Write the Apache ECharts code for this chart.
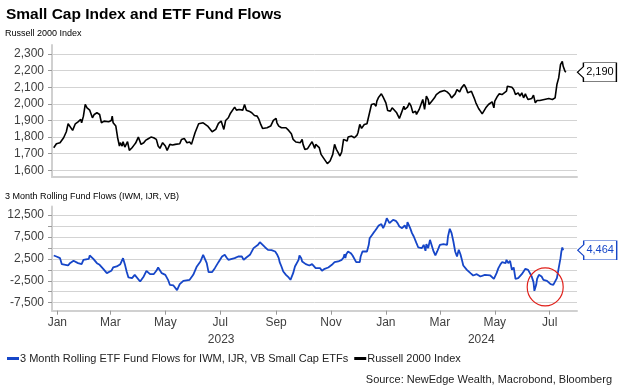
<!DOCTYPE html>
<html><head><meta charset="utf-8">
<script src="https://cdn.jsdelivr.net/npm/echarts@6/dist/echarts.min.js"></script>
<style>html,body{margin:0;padding:0;background:#fff}#c{width:624px;height:391px}</style>
</head><body><div id="c"></div>
<script>
// ---------------- DATA ----------------
const r2kName = 'Russell 2000 Index';
const flowName = '3 Month Rolling ETF Fund Flows for IWM, IJR, VB Small Cap ETFs';

const r2kDates = ['2022-12-28','2022-12-29','2022-12-31','2023-01-02','2023-01-04','2023-01-06','2023-01-08','2023-01-11','2023-01-13','2023-01-15','2023-01-18','2023-01-21','2023-01-24','2023-01-27','2023-01-28','2023-01-30','2023-02-01','2023-02-03','2023-02-06','2023-02-09','2023-02-11','2023-02-14','2023-02-16','2023-02-17','2023-02-19','2023-02-22','2023-02-24','2023-02-27','2023-03-02','2023-03-03','2023-03-04','2023-03-07','2023-03-09','2023-03-11','2023-03-12','2023-03-14','2023-03-15','2023-03-17','2023-03-20','2023-03-22','2023-03-25','2023-03-27','2023-03-29','2023-04-01','2023-04-04','2023-04-07','2023-04-09','2023-04-12','2023-04-15','2023-04-18','2023-04-21','2023-04-23','2023-04-25','2023-04-28','2023-05-01','2023-05-03','2023-05-06','2023-05-09','2023-05-12','2023-05-14','2023-05-17','2023-05-19','2023-05-22','2023-05-25','2023-05-28','2023-05-30','2023-06-01','2023-06-03','2023-06-05','2023-06-07','2023-06-09','2023-06-12','2023-06-14','2023-06-17','2023-06-19','2023-06-22','2023-06-23','2023-06-26','2023-06-29','2023-07-02','2023-07-05','2023-07-07','2023-07-10','2023-07-12','2023-07-14','2023-07-17','2023-07-19','2023-07-22','2023-07-24','2023-07-26','2023-07-28','2023-07-30','2023-08-02','2023-08-05','2023-08-08','2023-08-11','2023-08-13','2023-08-15','2023-08-17','2023-08-19','2023-08-22','2023-08-24','2023-08-26','2023-08-29','2023-09-01','2023-09-02','2023-09-04','2023-09-07','2023-09-09','2023-09-12','2023-09-14','2023-09-15','2023-09-18','2023-09-20','2023-09-23','2023-09-25','2023-09-28','2023-09-30','2023-10-01','2023-10-03','2023-10-06','2023-10-09','2023-10-11','2023-10-14','2023-10-15','2023-10-17','2023-10-19','2023-10-21','2023-10-24','2023-10-25','2023-10-28','2023-10-31','2023-11-03','2023-11-05','2023-11-07','2023-11-09','2023-11-11','2023-11-13','2023-11-15','2023-11-17','2023-11-19','2023-11-20','2023-11-22','2023-11-24','2023-11-27','2023-11-30','2023-12-01','2023-12-03','2023-12-05','2023-12-08','2023-12-11','2023-12-13','2023-12-16','2023-12-17','2023-12-19','2023-12-21','2023-12-22','2023-12-24','2023-12-27','2023-12-29','2024-01-01','2024-01-03','2024-01-06','2024-01-08','2024-01-10','2024-01-13','2024-01-16','2024-01-19','2024-01-21','2024-01-22','2024-01-25','2024-01-27','2024-01-29','2024-01-31','2024-02-03','2024-02-04','2024-02-07','2024-02-09','2024-02-11','2024-02-13','2024-02-15','2024-02-17','2024-02-18','2024-02-21','2024-02-24','2024-02-26','2024-02-28','2024-03-01','2024-03-03','2024-03-06','2024-03-09','2024-03-12','2024-03-14','2024-03-16','2024-03-18','2024-03-20','2024-03-23','2024-03-25','2024-03-28','2024-03-30','2024-04-01','2024-04-03','2024-04-05','2024-04-08','2024-04-10','2024-04-13','2024-04-15','2024-04-17','2024-04-19','2024-04-21','2024-04-24','2024-04-26','2024-04-28','2024-04-30','2024-05-01','2024-05-04','2024-05-06','2024-05-09','2024-05-11','2024-05-14','2024-05-15','2024-05-17','2024-05-20','2024-05-22','2024-05-24','2024-05-25','2024-05-27','2024-05-29','2024-05-31','2024-06-02','2024-06-04','2024-06-05','2024-06-07','2024-06-09','2024-06-11','2024-06-13','2024-06-15','2024-06-17','2024-06-20','2024-06-22','2024-06-25','2024-06-27','2024-06-30','2024-07-02','2024-07-04','2024-07-07','2024-07-09','2024-07-11','2024-07-12','2024-07-13','2024-07-15','2024-07-16','2024-07-18','2024-07-19'];
const r2kValues = [1736,1726,1760,1756,1766,1756,1796,1832,1880,1886,1840,1880,1892,1906,1886,1926,1996,1976,1962,1916,1936,1946,1956,1936,1886,1896,1886,1892,1900,1926,1886,1866,1796,1746,1766,1746,1772,1740,1772,1720,1736,1750,1764,1800,1756,1766,1780,1790,1800,1796,1786,1746,1732,1766,1746,1720,1756,1752,1756,1746,1760,1786,1792,1766,1770,1756,1766,1826,1820,1880,1872,1886,1876,1866,1856,1832,1820,1846,1882,1896,1846,1900,1916,1940,1932,1980,1962,1966,1976,1962,1996,1962,1956,1946,1930,1926,1906,1876,1852,1852,1856,1846,1866,1900,1912,1886,1866,1856,1852,1856,1866,1840,1820,1786,1770,1780,1766,1786,1756,1726,1730,1756,1772,1732,1756,1766,1736,1696,1672,1666,1640,1656,1696,1756,1726,1706,1686,1712,1786,1796,1776,1800,1792,1806,1796,1812,1826,1876,1852,1876,1880,1886,1996,1986,2000,1986,2016,2040,2060,2040,2006,1960,1956,1976,1966,1946,1912,1956,1986,1966,1980,2006,1986,1946,1956,1936,1966,1976,2026,1966,2046,2026,1996,2016,2036,2056,2046,2072,2066,2080,2072,2056,2036,2036,2060,2086,2072,2096,2116,2096,2066,2056,2076,2036,2006,1972,1956,1940,1946,1976,1996,1986,2012,1976,2016,2046,2060,2056,2066,2076,2106,2100,2100,2086,2056,2046,2066,2046,2066,2036,2060,2046,2026,2036,2032,2052,2006,2020,2020,2016,2026,2036,2032,2032,2026,2036,2116,2156,2196,2236,2256,2226,2196,2190];

const flowDates = ['2022-12-28','2022-12-29','2022-12-31','2023-01-04','2023-01-06','2023-01-10','2023-01-13','2023-01-15','2023-01-19','2023-01-21','2023-01-24','2023-01-26','2023-01-28','2023-01-30','2023-02-01','2023-02-05','2023-02-06','2023-02-10','2023-02-14','2023-02-17','2023-02-21','2023-02-25','2023-02-27','2023-03-02','2023-03-04','2023-03-08','2023-03-10','2023-03-12','2023-03-15','2023-03-17','2023-03-19','2023-03-21','2023-03-25','2023-03-28','2023-03-30','2023-04-03','2023-04-07','2023-04-10','2023-04-14','2023-04-18','2023-04-21','2023-04-23','2023-04-27','2023-05-01','2023-05-04','2023-05-06','2023-05-10','2023-05-14','2023-05-17','2023-05-21','2023-05-28','2023-06-01','2023-06-05','2023-06-09','2023-06-12','2023-06-14','2023-06-16','2023-06-18','2023-06-22','2023-06-25','2023-06-29','2023-07-03','2023-07-05','2023-07-06','2023-07-08','2023-07-10','2023-07-14','2023-07-17','2023-07-21','2023-07-25','2023-07-27','2023-07-30','2023-08-03','2023-08-07','2023-08-09','2023-08-12','2023-08-14','2023-08-16','2023-08-20','2023-08-23','2023-08-27','2023-08-31','2023-09-02','2023-09-04','2023-09-05','2023-09-07','2023-09-09','2023-09-11','2023-09-12','2023-09-14','2023-09-15','2023-09-17','2023-09-18','2023-09-20','2023-09-22','2023-09-24','2023-09-26','2023-09-27','2023-09-29','2023-09-30','2023-10-02','2023-10-04','2023-10-06','2023-10-08','2023-10-10','2023-10-11','2023-10-15','2023-10-17','2023-10-20','2023-10-22','2023-10-25','2023-10-29','2023-11-02','2023-11-05','2023-11-09','2023-11-13','2023-11-15','2023-11-16','2023-11-17','2023-11-18','2023-11-20','2023-11-22','2023-11-23','2023-11-25','2023-11-27','2023-11-29','2023-12-01','2023-12-03','2023-12-04','2023-12-06','2023-12-08','2023-12-11','2023-12-13','2023-12-14','2023-12-16','2023-12-18','2023-12-20','2023-12-22','2023-12-24','2023-12-26','2023-12-27','2023-12-29','2023-12-31','2024-01-02','2024-01-04','2024-01-05','2024-01-07','2024-01-09','2024-01-10','2024-01-12','2024-01-14','2024-01-16','2024-01-19','2024-01-22','2024-01-24','2024-01-25','2024-01-26','2024-01-28','2024-01-30','2024-02-01','2024-02-03','2024-02-04','2024-02-06','2024-02-08','2024-02-10','2024-02-12','2024-02-14','2024-02-15','2024-02-17','2024-02-19','2024-02-21','2024-02-23','2024-02-25','2024-02-27','2024-02-28','2024-03-01','2024-03-03','2024-03-05','2024-03-07','2024-03-09','2024-03-10','2024-03-12','2024-03-14','2024-03-16','2024-03-18','2024-03-20','2024-03-22','2024-03-24','2024-03-25','2024-03-27','2024-03-29','2024-03-31','2024-04-04','2024-04-07','2024-04-09','2024-04-11','2024-04-15','2024-04-17','2024-04-20','2024-04-22','2024-04-26','2024-04-30','2024-05-01','2024-05-03','2024-05-05','2024-05-07','2024-05-09','2024-05-11','2024-05-13','2024-05-14','2024-05-16','2024-05-18','2024-05-20','2024-05-22','2024-05-24','2024-05-27','2024-05-29','2024-05-31','2024-06-02','2024-06-04','2024-06-06','2024-06-07','2024-06-09','2024-06-11','2024-06-13','2024-06-14','2024-06-16','2024-06-17','2024-06-19','2024-06-20','2024-06-22','2024-06-24','2024-06-26','2024-06-28','2024-06-30','2024-07-02','2024-07-03','2024-07-05','2024-07-07','2024-07-09','2024-07-11','2024-07-13','2024-07-14','2024-07-15','2024-07-16'];
const flowValues = [3268,3572,3040,2660,1292,1140,988,1520,2052,1748,1520,1900,1292,2280,2508,2500,3268,2508,1520,1140,228,-760,-988,-228,532,760,532,1292,2660,1292,-380,-1748,-1900,-1140,-1520,-2660,-1520,-228,-988,-1000,-228,532,-760,-1140,-2280,-3420,-3572,-4636,-3268,-2508,-2280,-1140,760,1900,3420,3268,1520,-532,-500,380,1748,3040,3420,3420,2812,2280,2508,2660,3040,3040,2280,2812,3420,4940,4788,5700,6308,6308,5092,4560,4480,4180,3572,2660,1748,760,-380,-228,-1140,-1140,-1748,-2280,-2280,-760,760,760,2280,3268,2660,1900,2052,1292,1748,988,760,1292,380,532,380,-228,228,532,1140,1748,1900,2280,2812,3572,2660,3572,4180,4560,3800,3268,2812,1748,1520,1748,3040,4180,4028,4180,5700,7220,7220,8360,8892,9500,10108,9880,10412,9500,10412,11780,11400,10640,10640,11400,11172,11172,10640,9880,9500,10108,9348,10868,10640,9500,8360,7600,7220,6080,5092,5548,4940,5700,4332,5852,4940,6840,6612,4180,3268,4180,4180,5700,6080,5852,6080,5700,7600,9348,8360,6460,4180,3040,4560,3420,2660,988,760,0,-760,-1292,-1520,-988,-1520,-1140,-1140,-760,-1292,-2052,-2052,-760,380,1140,1748,2052,1520,2280,1520,2052,0,532,-2052,-1900,-1520,-988,-380,228,380,0,-760,-1520,-2812,-4788,-3420,-2052,-1140,-1140,-1520,-2280,-2052,-2508,-2660,-3268,-3268,-3420,-3800,-1900,380,2660,4180,5092,4464];

const monthTicks = ['2023-01-01','2023-03-01','2023-05-01','2023-07-01','2023-09-01','2023-11-01','2024-01-01','2024-03-01','2024-05-01','2024-07-01'];
const yearLabelDates = ['2023-07-02','2024-04-16'];
const r2kTicks = [1600,1700,1800,1900,2000,2100,2200,2300];
const flowTicks = [-7500,-5000,-2500,0,2500,5000,7500,10000,12500];
const flowLabelTicks = [-7500,-2500,2500,7500,12500];
const highlight = { date: '2024-06-26', value: -3900 };

// --------------- CHART ----------------
const FONT = 'Arial, "Liberation Sans", sans-serif';
const BLUE = '#1646c8';
const GRID = '#d3d3d3';
const AXIS = '#d0d0d0';
const TXT = '#404040';
const MONTHS = ['Jan','Feb','Mar','Apr','May','Jun','Jul','Aug','Sep','Oct','Nov','Dec'];
const ts = s => { const p = s.split('-').map(Number); return Date.UTC(p[0], p[1] - 1, p[2]); };
const xMin = Date.UTC(2022, 11, 26, 2);
const xMax = Date.UTC(2024, 6, 31, 8);
const fmt = v => Number(v).toLocaleString('en-US');

const r2kData = r2kDates.map((d, i) => [ts(d), r2kValues[i]]);
const flowData = flowDates.map((d, i) => [ts(d), flowValues[i]]);
const monthTickTs = monthTicks.map(ts);
const yearTickTs = yearLabelDates.map(ts);
const r2kLast = r2kData[r2kData.length - 1];
const flowLast = flowData[flowData.length - 1];
const callout = 'path://M0,9.5L6,4L6,0L39,0L39,19L6,19L6,15Z';

const chart = echarts.init(document.getElementById('c'), null, { renderer: 'canvas' });
chart.setOption({
  animation: false,
  backgroundColor: '#fff',
  textStyle: { fontFamily: FONT },
  title: [
    { text: 'Small Cap Index and ETF Fund Flows', left: 1, top: 2,
      textStyle: { fontFamily: FONT, fontSize: 15.5, fontWeight: 'bold', color: '#000' } },
    { text: 'Russell 2000 Index', left: 0, top: 24,
      textStyle: { fontFamily: FONT, fontSize: 9, fontWeight: 'normal', color: '#000' } },
    { text: '3 Month Rolling Fund Flows (IWM, IJR, VB)', left: 0, top: 187,
      textStyle: { fontFamily: FONT, fontSize: 9, fontWeight: 'normal', color: '#000' } },
    { text: 'Source: NewEdge Wealth, Macrobond, Bloomberg', right: 7, top: 369,
      textStyle: { fontFamily: FONT, fontSize: 11, fontWeight: 'normal', color: '#222' } }
  ],
  legend: {
    left: 2, top: 348, itemWidth: 12, itemHeight: 3, itemGap: 6, icon: 'rect',
    data: [flowName, r2kName],
    textStyle: { fontFamily: FONT, fontSize: 11, color: '#222', padding: [0, 0, 0, -4] }
  },
  grid: [
    { left: 52, right: 47, top: 45, height: 132 },
    { left: 52, right: 47, top: 206.5, height: 104.2 }
  ],
  xAxis: [
    { type: 'value', gridIndex: 0, min: xMin, max: xMax, position: 'bottom',
      axisLine: { show: true, onZero: false, lineStyle: { color: AXIS, width: 2 } },
      axisTick: { show: false }, axisLabel: { show: false }, splitLine: { show: false } },
    { type: 'value', gridIndex: 1, min: xMin, max: xMax, position: 'bottom',
      axisLine: { show: true, onZero: false, lineStyle: { color: AXIS, width: 2 } },
      axisTick: { show: true, length: 4, customValues: monthTickTs, lineStyle: { color: '#999' } },
      axisLabel: { show: true, customValues: monthTickTs, margin: 6, fontSize: 12, color: TXT, fontFamily: FONT,
        formatter: v => MONTHS[new Date(v).getUTCMonth()] },
      splitLine: { show: false } },
    { type: 'value', gridIndex: 1, min: xMin, max: xMax, position: 'bottom',
      axisLine: { show: false, onZero: false }, axisTick: { show: false }, splitLine: { show: false },
      axisLabel: { show: true, customValues: yearTickTs, margin: 23, fontSize: 12, color: TXT, fontFamily: FONT,
        formatter: v => String(new Date(v).getUTCFullYear()) } }
  ],
  yAxis: [
    { type: 'value', gridIndex: 0, min: 1559.7, max: 2354,
      axisLine: { show: true, lineStyle: { color: AXIS, width: 2 } },
      axisTick: { show: true, inside: false, length: 4, customValues: r2kTicks, lineStyle: { color: '#999' } },
      axisLabel: { customValues: r2kTicks, formatter: fmt, fontSize: 12, color: TXT, margin: 8, fontFamily: FONT },
      splitLine: { show: true, lineStyle: { color: GRID, width: 1 } } },
    { type: 'value', gridIndex: 1, min: -9324, max: 14438,
      axisLine: { show: true, lineStyle: { color: AXIS, width: 2 } },
      axisTick: { show: true, inside: false, length: 4, customValues: flowTicks, lineStyle: { color: '#999' } },
      axisLabel: { customValues: flowLabelTicks, formatter: fmt, fontSize: 12, color: TXT, margin: 8, fontFamily: FONT },
      splitLine: { show: true, lineStyle: { color: GRID, width: 1 } } }
  ],
  series: [
    { name: r2kName, type: 'line', xAxisIndex: 0, yAxisIndex: 0, data: r2kData,
      showSymbol: false, symbol: 'none', itemStyle: { color: '#000' },
      lineStyle: { color: '#000', width: 1.6 },
      markPoint: {
        silent: true,
        data: [{ coord: r2kLast, value: r2kLast[1], symbol: callout, symbolSize: [39, 19], symbolOffset: [31, 0],
          itemStyle: { color: '#fff', borderColor: '#000', borderWidth: 1 },
          label: { show: true, position: 'inside', offset: [3, 0], formatter: p => fmt(p.value),
            color: '#000', fontSize: 11, fontFamily: FONT } }]
      } },
    { name: flowName, type: 'line', xAxisIndex: 1, yAxisIndex: 1, data: flowData,
      showSymbol: false, symbol: 'none', itemStyle: { color: BLUE },
      lineStyle: { color: BLUE, width: 1.8 },
      markPoint: {
        silent: true,
        data: [
          { coord: flowLast, value: flowLast[1], symbol: callout, symbolSize: [39, 19], symbolOffset: [34, 0],
            itemStyle: { color: '#fff', borderColor: BLUE, borderWidth: 1 },
            label: { show: true, position: 'inside', offset: [3, 0], formatter: p => fmt(p.value),
              color: BLUE, fontSize: 11, fontFamily: FONT } },
          { coord: [ts(highlight.date), highlight.value], symbol: 'circle', symbolSize: [36, 38],
            itemStyle: { color: 'rgba(0,0,0,0)', borderColor: '#e0201a', borderWidth: 1.2 },
            label: { show: false } }
        ]
      } }
  ]
});
</script></body></html>
